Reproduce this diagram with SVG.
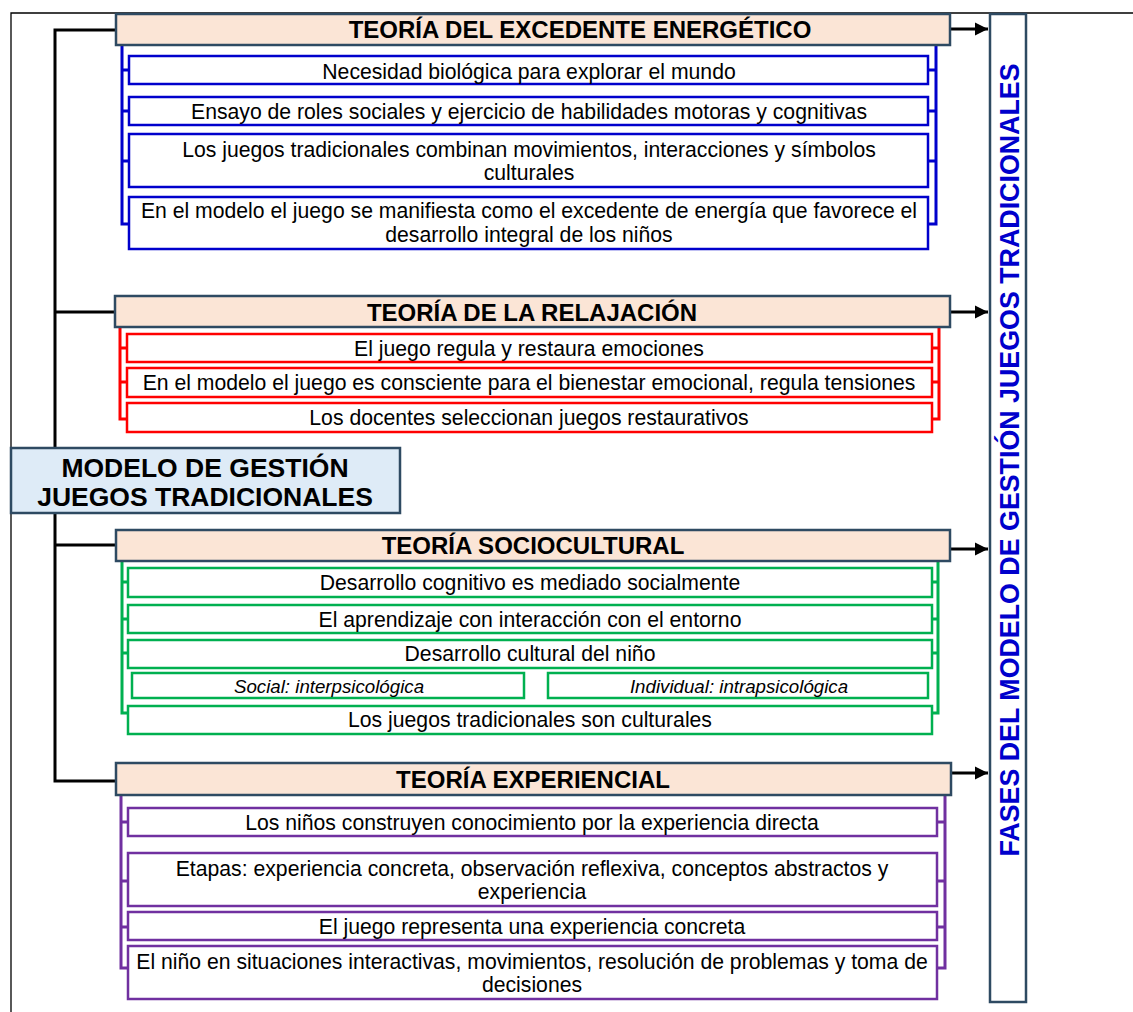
<svg xmlns="http://www.w3.org/2000/svg" width="1133" height="1012" viewBox="0 0 1133 1012">
<defs>
<marker id="arr" viewBox="0 0 10 10" refX="10" refY="5" markerWidth="4.5" markerHeight="4.5" orient="auto" markerUnits="strokeWidth">
<path d="M0,0 L10,5 L0,10 z" fill="#000"/>
</marker>
<style>
text{font-family:"Liberation Sans",Arial,sans-serif;fill:#000}
.hd{fill:#FBE5D6;stroke:#2E4A62;stroke-width:2.5}
.hdt{font-size:24px;font-weight:bold;text-anchor:middle}
.t{font-size:21.2px;text-anchor:middle}
.ti{font-size:18.7px;font-style:italic;text-anchor:middle}
.b{fill:#fff;stroke:#0000CC;stroke-width:2.5}
.r{fill:#fff;stroke:#FF0000;stroke-width:2.5}
.g{fill:#fff;stroke:#00B050;stroke-width:2.5}
.p{fill:#fff;stroke:#7030A0;stroke-width:2.5}
.bl{fill:none;stroke:#0000CC;stroke-width:3}
.rl{fill:none;stroke:#FF0000;stroke-width:3}
.gl{fill:none;stroke:#00B050;stroke-width:3}
.pl{fill:none;stroke:#7030A0;stroke-width:3}
.k{fill:none;stroke:#000;stroke-width:3}
</style>
</defs>
<rect width="1133" height="1012" fill="#fff"/>
<!-- frame -->
<path d="M11,1012 L11,13 L1133,13" fill="none" stroke="#000" stroke-width="1.3"/>

<g id="connectors">
<path class="k" d="M116,30 L55,30 L55,781 L116,781 M55,312 L115,312 M55,545 L116,545"/>
<path class="k" d="M950,29 L988,29" marker-end="url(#arr)"/>
<path class="k" d="M950,312 L988,312" marker-end="url(#arr)"/>
<path class="k" d="M950,549 L988,549" marker-end="url(#arr)"/>
<path class="k" d="M951,773 L988,773" marker-end="url(#arr)"/>
<!-- blue brackets -->
<path class="bl" d="M122,45 L122,224 L129,224 M122,70 L129,70 M122,111 L129,111 M122,161 L129,161"/>
<path class="bl" d="M936,45 L936,224 L928,224 M936,70 L928,70 M936,111 L928,111 M936,161 L928,161"/>
<!-- red brackets -->
<path class="rl" d="M120,327 L120,419 L127,419 M120,348 L127,348 M120,382 L127,382"/>
<path class="rl" d="M939,327 L939,419 L932,419 M939,348 L932,348 M939,382 L932,382"/>
<!-- green brackets -->
<path class="gl" d="M122,561 L122,713 L128,713 M122,582 L128,582 M122,619 L128,619 M122,653 L128,653"/>
<path class="gl" d="M938,561 L938,713 L932,713 M938,582 L932,582 M938,619 L932,619 M938,653 L932,653"/>
<!-- purple brackets -->
<path class="pl" d="M121,795 L121,968 L128,968 M121,822 L128,822 M121,881 L128,881 M121,927 L128,927"/>
<path class="pl" d="M945,795 L945,968 L937,968 M945,822 L937,822 M945,881 L937,881 M945,927 L937,927"/>
</g>

<g id="center">
<rect x="11" y="448" width="389" height="65" fill="#DEEBF7" stroke="#2E4A62" stroke-width="2.5"/>
<text x="205" y="476.5" style="font-size:26.5px;font-weight:bold;text-anchor:middle">MODELO DE GESTIÓN</text>
<text x="205" y="505.5" style="font-size:26.5px;font-weight:bold;text-anchor:middle">JUEGOS TRADICIONALES</text>
</g>

<g id="fases">
<rect x="990" y="14" width="36" height="988" fill="#fff" stroke="#2E4A62" stroke-width="2.5"/>
<text transform="translate(1019,460) rotate(-90)" style="font-size:26.8px;font-weight:bold;text-anchor:middle;fill:#0000CC">FASES DEL MODELO DE GESTIÓN JUEGOS TRADICIONALES</text>
</g>

<g id="excedente">
<rect class="hd" x="116" y="14" width="834" height="31"/>
<text class="hdt" x="580" y="38">TEORÍA DEL EXCEDENTE ENERGÉTICO</text>
<g id="e1"><rect class="b" x="129" y="56" width="799" height="28"/><text class="t" x="529" y="78.5">Necesidad biológica para explorar el mundo</text></g>
<g id="e2"><rect class="b" x="129" y="97" width="799" height="28"/><text class="t" x="529" y="118.5">Ensayo de roles sociales y ejercicio de habilidades motoras y cognitivas</text></g>
<g id="e3"><rect class="b" x="129" y="134" width="799" height="53"/><text class="t" x="529" y="157">Los juegos tradicionales combinan movimientos, interacciones y símbolos</text><text class="t" x="529" y="180">culturales</text></g>
<g id="e4"><rect class="b" x="129" y="197" width="799" height="52"/><text class="t" x="529" y="218">En el modelo el juego se manifiesta como el excedente de energía que favorece el</text><text class="t" x="529" y="241.5">desarrollo integral de los niños</text></g>
</g>

<g id="relajacion">
<rect class="hd" x="115" y="296" width="835" height="31"/>
<text class="hdt" x="532" y="320.5">TEORÍA DE LA RELAJACIÓN</text>
<g id="r1"><rect class="r" x="127" y="334" width="805" height="28"/><text class="t" x="529" y="355.5">El juego regula y restaura emociones</text></g>
<g id="r2"><rect class="r" x="127" y="368" width="805" height="29"/><text class="t" x="529" y="389.5">En el modelo el juego es consciente para el bienestar emocional, regula tensiones</text></g>
<g id="r3"><rect class="r" x="127" y="403" width="805" height="29"/><text class="t" x="529" y="424.5">Los docentes seleccionan juegos restaurativos</text></g>
</g>

<g id="sociocultural">
<rect class="hd" x="116" y="530" width="834" height="31"/>
<text class="hdt" x="533" y="553.5">TEORÍA SOCIOCULTURAL</text>
<g id="s1"><rect class="g" x="128" y="568" width="804" height="29"/><text class="t" x="530" y="589.5">Desarrollo cognitivo es mediado socialmente</text></g>
<g id="s2"><rect class="g" x="128" y="605" width="804" height="28"/><text class="t" x="530" y="626.5">El aprendizaje con interacción con el entorno</text></g>
<g id="s3"><rect class="g" x="128" y="640" width="804" height="28"/><text class="t" x="530" y="660.5">Desarrollo cultural del niño</text></g>
<g id="s4"><rect class="g" x="132" y="673" width="392" height="25"/><text class="ti" x="329" y="692.5">Social: interpsicológica</text></g>
<g id="s5"><rect class="g" x="548" y="673" width="380" height="25"/><text class="ti" x="739" y="692.5">Individual: intrapsicológica</text></g>
<g id="s6"><rect class="g" x="128" y="706" width="804" height="28"/><text class="t" x="530" y="726.5">Los juegos tradicionales son culturales</text></g>
</g>

<g id="experiencial">
<rect class="hd" x="116" y="763" width="835" height="32"/>
<text class="hdt" x="533" y="787.5">TEORÍA EXPERIENCIAL</text>
<g id="x1"><rect class="p" x="128" y="808" width="809" height="28"/><text class="t" x="532" y="829.5">Los niños construyen conocimiento por la experiencia directa</text></g>
<g id="x2"><rect class="p" x="128" y="853" width="809" height="53"/><text class="t" x="532" y="875.5">Etapas: experiencia concreta, observación reflexiva, conceptos abstractos y</text><text class="t" x="532" y="898.5">experiencia</text></g>
<g id="x3"><rect class="p" x="128" y="912" width="809" height="28"/><text class="t" x="532" y="933.5">El juego representa una experiencia concreta</text></g>
<g id="x4"><rect class="p" x="128" y="946" width="809" height="53"/><text class="t" x="532" y="968.5">El niño en situaciones interactivas, movimientos, resolución de problemas y toma de</text><text class="t" x="532" y="991.5">decisiones</text></g>
</g>
</svg>
